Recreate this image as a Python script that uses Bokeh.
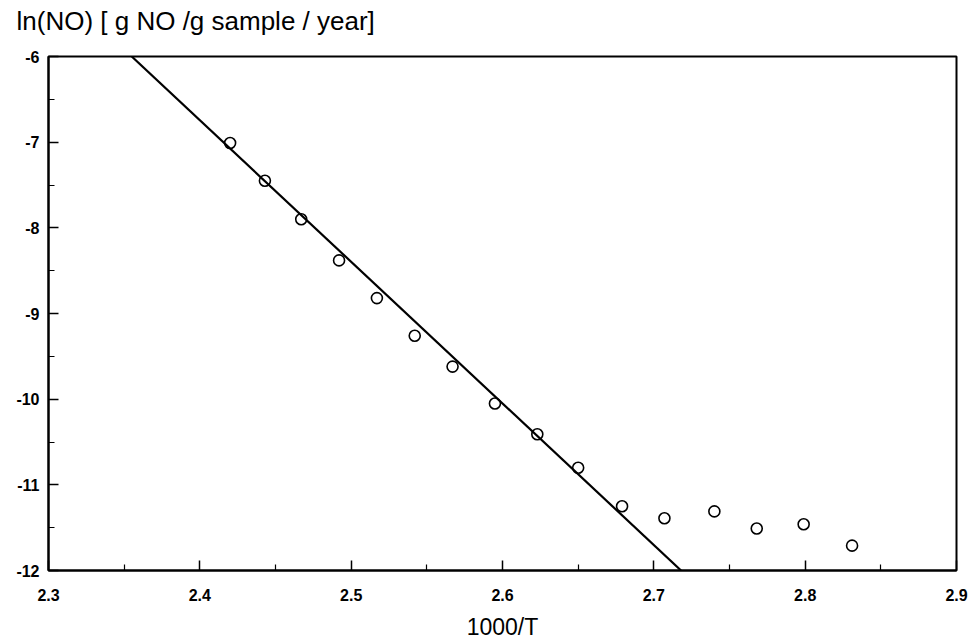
from bokeh.plotting import figure
from bokeh.models import FixedTicker, Title
from bokeh.embed import file_html
from bokeh.resources import INLINE

# Data
inv_T = [2.420, 2.443, 2.467, 2.492, 2.517, 2.542, 2.567, 2.595, 2.623,
         2.650, 2.679, 2.707, 2.740, 2.768, 2.799, 2.831]
ln_NO = [-7.01, -7.45, -7.90, -8.38, -8.82, -9.26, -9.62, -10.05, -10.41,
         -10.80, -11.25, -11.39, -11.31, -11.51, -11.46, -11.71]

fit_x = [2.355, 2.718]
fit_y = [-6.0, -12.0]

x_ticks = [2.3, 2.4, 2.5, 2.6, 2.7, 2.8, 2.9]
x_tick_labels = ["2.3", "2.4", "2.5", "2.6", "2.7", "2.8", "2.9"]
x_minor = [2.35, 2.45, 2.55, 2.65, 2.75, 2.85]
y_ticks = [-12, -11, -10, -9, -8, -7, -6]
y_tick_labels = ["-12", "-11", "-10", "-9", "-8", "-7", "-6"]
y_minor = [-11.5, -10.5, -9.5, -8.5, -7.5, -6.5]

title_text = "ln(NO) [ g NO /g sample / year]"
xlabel_text = "1000/T"

FONT = "Liberation Sans"

p = figure(width=968, height=642, x_range=(2.3, 2.9), y_range=(-12, -6),
           output_backend="svg", toolbar_location=None,
           min_border_left=48, min_border_right=12,
           min_border_top=56, min_border_bottom=69)
p.background_fill_color = "white"
p.border_fill_color = "white"
p.outline_line_color = "black"
p.outline_line_width = 2
p.xgrid.visible = False
p.ygrid.visible = False

# spacer between frame and title (title sits outermost)
spacer = Title(text=" ", text_font=FONT, text_font_size="10px", standoff=8)
p.add_layout(spacer, "above")

p.title.text = title_text
p.title.align = "left"
p.title.offset = -32
p.title.text_font = FONT
p.title.text_font_style = "normal"
p.title.text_font_size = "26px"
p.title.text_color = "black"
p.title.standoff = 0

xa = p.xaxis[0]
xa.ticker = FixedTicker(ticks=x_ticks, minor_ticks=x_minor)
xa.major_label_overrides = dict(zip(x_ticks, x_tick_labels))
xa.major_tick_in = 10
xa.major_tick_out = 0
xa.minor_tick_in = 6
xa.minor_tick_out = 0
xa.axis_line_width = 2
xa.major_tick_line_width = 1.5
xa.minor_tick_line_width = 1.2
xa.major_label_text_font = FONT
xa.major_label_text_font_style = "bold"
xa.major_label_text_font_size = "16px"
xa.major_label_text_color = "black"
xa.major_label_standoff = 18
xa.axis_label = xlabel_text
xa.axis_label_text_font = FONT
xa.axis_label_text_font_style = "normal"
xa.axis_label_text_font_size = "23px"
xa.axis_label_text_color = "black"
xa.axis_label_standoff = 10

ya = p.yaxis[0]
ya.ticker = FixedTicker(ticks=y_ticks, minor_ticks=y_minor)
ya.major_label_overrides = dict(zip(y_ticks, y_tick_labels))
ya.major_tick_in = 10
ya.major_tick_out = 0
ya.minor_tick_in = 6
ya.minor_tick_out = 0
ya.axis_line_width = 2
ya.major_tick_line_width = 1.5
ya.minor_tick_line_width = 1.2
ya.major_label_text_font = FONT
ya.major_label_text_font_style = "bold"
ya.major_label_text_font_size = "16px"
ya.major_label_text_color = "black"
ya.major_label_standoff = 9

p.line(fit_x, fit_y, line_color="black", line_width=2.2)
p.scatter(inv_T, ln_NO, marker="circle", size=11, fill_color=None,
          line_color="black", line_width=1.6)

open("out.html", "w").write(file_html(p, INLINE))
